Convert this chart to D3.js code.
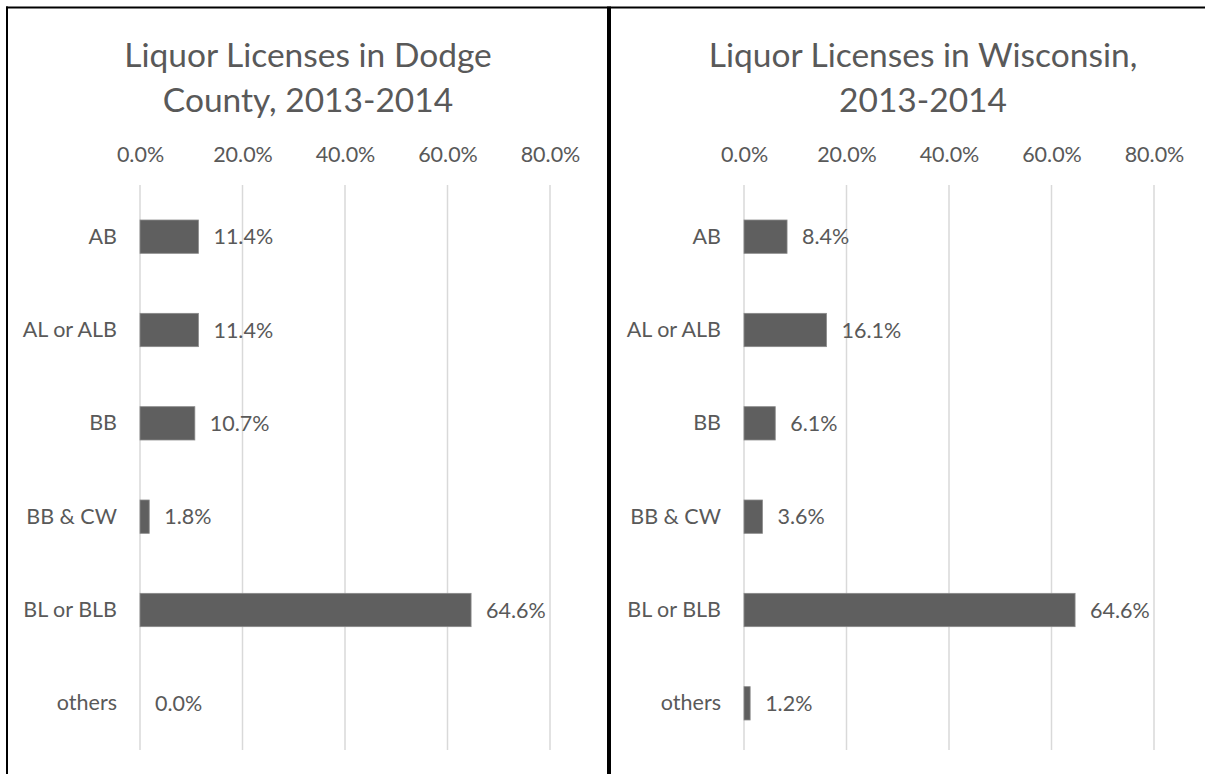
<!DOCTYPE html>
<html>
<head>
<meta charset="utf-8">
<script src="https://cdn.jsdelivr.net/npm/d3@7/dist/d3.min.js"></script>
<style>
  html, body { margin: 0; padding: 0; background: #fff; }
  svg { display: block; }
  text { font-family: Lato, "Noto Sans", sans-serif; fill: #595959; }
</style>
</head>
<body>
<svg id="chart" width="1205" height="774"></svg>
<script>
const categories = ["AB", "AL or ALB", "BB", "BB & CW", "BL or BLB", "others"];
const dodgeValues = [11.4, 11.4, 10.7, 1.8, 64.6, 0.0];
const wisconsinValues = [8.4, 16.1, 6.1, 3.6, 64.6, 1.2];
const tickValues = [0, 20, 40, 60, 80];
const titles = [
  ["Liquor Licenses in Dodge", "County, 2013-2014"],
  ["Liquor Licenses in Wisconsin,", "2013-2014"]
];

const svg = d3.select("#chart");

const panels = [
  { values: dodgeValues, title: titles[0], x0: 140, x1: 550, titleX: 308 },
  { values: wisconsinValues, title: titles[1], x0: 744, x1: 1154, titleX: 923 }
];

const plotTop = 190, plotBottom = 750;

panels.forEach(p => {
  const g = svg.append("g");
  const x = d3.scaleLinear().domain([0, 80]).range([p.x0, p.x1]);
  const y = d3.scaleBand().domain(categories).range([plotTop, plotBottom]).paddingInner(0.643).paddingOuter(0.3215);

  // title
  const t = g.append("text").attr("text-anchor", "middle")
    .style("font-size", "33.5px").style("font-weight", 400);
  t.append("tspan").attr("x", p.titleX).attr("y", 67).text(p.title[0]);
  t.append("tspan").attr("x", p.titleX).attr("y", 112).text(p.title[1]);

  // gridlines
  g.selectAll(".grid").data(tickValues).enter().append("line")
    .attr("x1", d => x(d)).attr("x2", d => x(d))
    .attr("y1", plotTop - 5).attr("y2", plotBottom)
    .attr("stroke", "#d9d9d9").attr("stroke-width", 1.5);

  // top axis labels
  const axis = d3.axisTop(x).tickValues(tickValues).tickSize(0).tickPadding(0)
    .tickFormat(d => d3.format(".1f")(d) + "%");
  const ax = g.append("g").attr("transform", `translate(0,${162})`).call(axis);
  ax.select(".domain").remove();
  ax.selectAll("text").attr("dy", 0).style("font-size", "21.5px")
    .style("font-family", "Lato, 'Noto Sans', sans-serif").attr("fill", "#595959");

  // category labels
  const ay = d3.axisLeft(y).tickSize(0).tickPadding(23);
  const axg = g.append("g").attr("transform", `translate(${p.x0},0)`).call(ay);
  axg.select(".domain").remove();
  axg.selectAll("text").style("font-size", "21.5px")
    .style("font-family", "Lato, 'Noto Sans', sans-serif").attr("fill", "#595959");

  // bars
  g.selectAll(".bar").data(p.values).enter().append("rect")
    .attr("x", x(0))
    .attr("y", (d, i) => y(categories[i]))
    .attr("width", d => x(d) - x(0))
    .attr("height", y.bandwidth())
    .attr("fill", "#5f5f5f")
    .attr("stroke", d => d > 0 ? "#8a8a8a" : "none")
    .attr("stroke-width", 0.8);

  // value labels
  g.selectAll(".val").data(p.values).enter().append("text")
    .attr("x", d => x(d) + 15)
    .attr("y", (d, i) => y(categories[i]) + y.bandwidth() / 2)
    .attr("dy", "0.35em")
    .style("font-size", "21.5px")
    .text(d => d3.format(".1f")(d) + "%");
});

// borders
svg.append("line").attr("x1", 6).attr("x2", 1205).attr("y1", 7.5).attr("y2", 7.5)
  .attr("stroke", "#000").attr("stroke-width", 2);
svg.append("line").attr("x1", 7).attr("x2", 7).attr("y1", 6.5).attr("y2", 774)
  .attr("stroke", "#000").attr("stroke-width", 2);
svg.append("line").attr("x1", 609).attr("x2", 609).attr("y1", 6.5).attr("y2", 774)
  .attr("stroke", "#000").attr("stroke-width", 4);
</script>
</body>
</html>
